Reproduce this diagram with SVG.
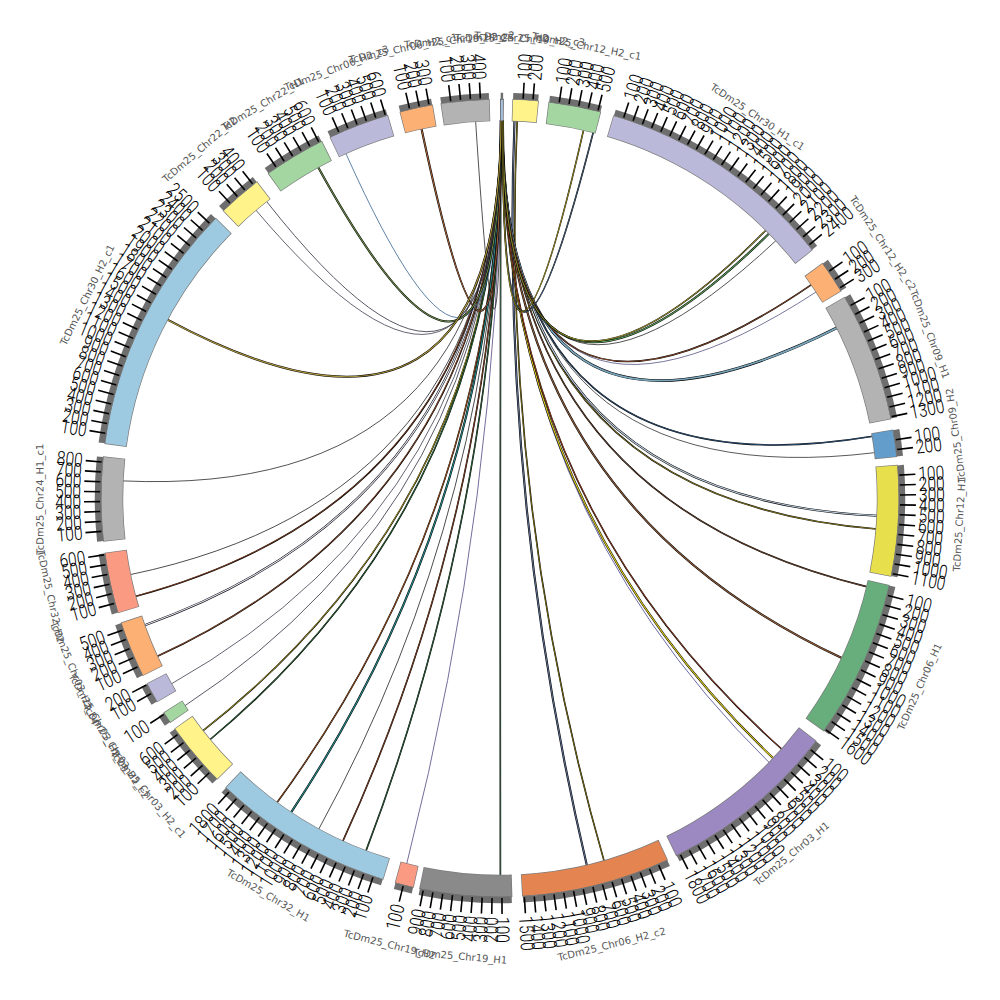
<svg xmlns="http://www.w3.org/2000/svg" width="1000" height="1000" viewBox="0 0 1000 1000">
<style>
.o{stroke:#7a7a7a;stroke-width:22.4}
.f{stroke-width:21}
.b{stroke:#6e6e6e;stroke-width:6.5}
.t path{stroke:#000;stroke-width:1.6;fill:none}
.t text{font-family:Roboto,"Liberation Sans",sans-serif;font-weight:300;font-size:19.5px;dominant-baseline:central;transform:scale(.8,1);fill:#000}
.L text{text-anchor:end}
.n{font-family:"DejaVu Sans",sans-serif;font-size:10px;fill:#555;text-anchor:middle;dominant-baseline:central}
#links use{fill:none}
.k{stroke:#000}
.r1o{stroke:#000;stroke-width:1.6}
.r1{stroke-width:.7}
.r2o{stroke:#000;stroke-width:2.1}
.r2{stroke-width:1.1}
.s{stroke-width:.75}
</style>
<defs>
<circle id="C" cx="500" cy="498" r="388" pathLength="360" fill="none" transform="rotate(-90 500 498)"/>
<circle id="B" cx="500" cy="498" r="402" pathLength="360" fill="none" transform="rotate(-90 500 498)"/>
<path id="k1" d="M501 120Q500 498 122.4 480.9"/>
<path id="k2" d="M501.1 120Q500 498 129.9 574.7"/>
<path id="k3" d="M501.2 120Q500 498 135.1 596.5"/>
<path id="k4" d="M501.3 120Q500 498 144.1 625.4"/>
<path id="k5" d="M501.4 120Q500 498 156.9 656.6"/>
<path id="k6" d="M501.5 120Q500 498 171 684.1"/>
<path id="k7" d="M501.5 120Q500 498 184.4 706.1"/>
<path id="k8" d="M501.6 120Q500 498 202.5 731.2"/>
<path id="k9" d="M501.6 120Q500 498 209.6 740"/>
<path id="k10" d="M501.7 120Q500 498 276.7 803"/>
<path id="k11" d="M501.7 120Q500 498 290.8 812.8"/>
<path id="k12" d="M501.8 120Q500 498 318.5 829.6"/>
<path id="k13" d="M501.8 120Q500 498 342.6 841.7"/>
<path id="k14" d="M501.9 120Q500 498 365.8 851.4"/>
<path id="k15" d="M501.9 120Q500 498 406.6 864.3"/>
<path id="k16" d="M500.7 120Q500 498 500.4 876"/>
<path id="k17" d="M514.5 120.3Q500 498 587 865.9"/>
<path id="k18" d="M517.2 120.5Q500 498 604.2 861.4"/>
<path id="k19" d="M502.2 120Q500 498 769.6 763"/>
<path id="k20" d="M502.2 120Q500 498 773.7 758.7"/>
<path id="k21" d="M502.3 120Q500 498 782.2 749.5"/>
<path id="k22" d="M502.3 120Q500 498 842.3 658.3"/>
<path id="k23" d="M502.4 120Q500 498 867.4 586.9"/>
<path id="k24" d="M502.4 120Q500 498 876.7 529"/>
<path id="k25" d="M502.5 120Q500 498 877.6 515.8"/>
<path id="k26" d="M502.5 120Q500 498 875.3 452.6"/>
<path id="k27" d="M502.6 120Q500 498 872.9 436.3"/>
<path id="k28" d="M502.6 120Q500 498 837.4 327.6"/>
<path id="k29" d="M502.7 120Q500 498 816.7 291.6"/>
<path id="k30" d="M502.7 120Q500 498 811.9 284.4"/>
<path id="k31" d="M502.8 120Q500 498 776.4 240.2"/>
<path id="k32" d="M502.8 120Q500 498 769.6 233.1"/>
<path id="k33" d="M502.9 120Q500 498 766.4 229.8"/>
<path id="k34" d="M502.9 120Q500 498 593.4 131.7"/>
<path id="k35" d="M503 120Q500 498 583.7 129.4"/>
<path id="k36" d="M500.8 120Q500 498 475.6 120.8"/>
<path id="k37" d="M500.9 120Q500 498 421.4 128.3"/>
<path id="k38" d="M500.9 120Q500 498 345.6 152.9"/>
<path id="k39" d="M501 120Q500 498 317.9 166.8"/>
<path id="k40" d="M501 120Q500 498 266.2 201"/>
<path id="k41" d="M501 120Q500 498 255.5 209.7"/>
<path id="k42" d="M501 120Q500 498 166.9 319.4"/>
</defs>
<rect width="1000" height="1000" fill="#fff"/>
<g id="links">
<use href="#k1" class="s" stroke="#1a1a1a"/>
<use href="#k2" class="s" stroke="#111"/>
<use href="#k3" class="r1o"/><use href="#k3" class="r1" stroke="#a0522d"/>
<use href="#k4" class="r2o"/><use href="#k4" class="r2" stroke="#e4e4f4"/>
<use href="#k5" class="r1o"/><use href="#k5" class="r1" stroke="#b5653c"/>
<use href="#k6" class="s" stroke="#334"/>
<use href="#k7" class="s" stroke="#223"/>
<use href="#k8" class="r1o"/><use href="#k8" class="r1" stroke="#d8c830"/>
<use href="#k9" class="r1o"/><use href="#k9" class="r1" stroke="#3a8a4a"/>
<use href="#k10" class="r1o"/><use href="#k10" class="r1" stroke="#c86a2a"/>
<use href="#k11" class="r2o"/><use href="#k11" class="r2" stroke="#2a8a8a"/>
<use href="#k12" class="s" stroke="#111"/>
<use href="#k13" class="r1o"/><use href="#k13" class="r1" stroke="#a0522d"/>
<use href="#k14" class="r1o"/><use href="#k14" class="r1" stroke="#3a7a4a"/>
<use href="#k15" class="s" stroke="#4a3a7a"/>
<use href="#k16" class="r1o"/><use href="#k16" class="r1" stroke="#4a7a5a"/>
<use href="#k17" class="r2o"/><use href="#k17" class="r2" stroke="#5a6a8a"/>
<use href="#k18" class="r1o"/><use href="#k18" class="r1" stroke="#a09020"/>
<use href="#k19" class="s" stroke="#3a3a8a"/>
<use href="#k20" class="r2o"/><use href="#k20" class="r2" stroke="#e0d020"/>
<use href="#k21" class="r1o"/><use href="#k21" class="r1" stroke="#c05030"/>
<use href="#k22" class="r2o"/><use href="#k22" class="r2" stroke="#8a5a3a"/>
<use href="#k23" class="r1o"/><use href="#k23" class="r1" stroke="#8b5a3b"/>
<use href="#k24" class="r1o"/><use href="#k24" class="r1" stroke="#b0a030"/>
<use href="#k25" class="r2o"/><use href="#k25" class="r2" stroke="#c0d0e0"/>
<use href="#k26" class="s" stroke="#222"/>
<use href="#k27" class="r1o"/><use href="#k27" class="r1" stroke="#3a6a9a"/>
<use href="#k28" class="k" stroke-width="2.8"/><use href="#k28" stroke="#7aa6bc" stroke-width="1.8"/>
<use href="#k29" class="s" stroke="#4a4a7a"/>
<use href="#k30" class="r1o"/><use href="#k30" class="r1" stroke="#b0603a"/>
<use href="#k31" class="s" stroke="#1a1a1a"/>
<use href="#k32" class="r2o"/><use href="#k32" class="r2" stroke="#5a9a5a"/>
<use href="#k33" class="r1o"/><use href="#k33" class="r1" stroke="#d8d040"/>
<use href="#k34" class="r1o"/><use href="#k34" class="r1" stroke="#5a7a9a"/>
<use href="#k35" class="r1o"/><use href="#k35" class="r1" stroke="#c8b830"/>
<use href="#k36" class="s" stroke="#1a1a1a"/>
<use href="#k37" class="r2o"/><use href="#k37" class="r2" stroke="#a0603a"/>
<use href="#k38" class="s" stroke="#2a5a8a"/>
<use href="#k39" class="r2o"/><use href="#k39" class="r2" stroke="#6a8a4a"/>
<use href="#k40" class="s" stroke="#223"/>
<use href="#k41" class="s" stroke="#334"/>
<use href="#k42" class="r2o"/><use href="#k42" class="r2" stroke="#b09a40"/>
</g>

<g id="s01-chr25">
<use href="#C" stroke="#555" stroke-width="22.4" stroke-dasharray=".55 400" stroke-dashoffset="0"/>
<use href="#C" class="f" stroke="#a6bdd7" stroke-dasharray=".35 400" stroke-dashoffset="-.1"/>
<use href="#B" class="b" stroke-dasharray=".35 400" stroke-dashoffset="-.1"/>
<text class="n" transform="rotate(0.27 500 498)" x="500" y="38">TcDm25_Chr25_H2</text>
</g>

<g id="s02-chr19-h2-c3">
<use href="#C" class="o" stroke-dasharray="3.8 400" stroke-dashoffset="-1.8"/>
<use href="#C" class="f" stroke="#fff38a" stroke-dasharray="3.6 400" stroke-dashoffset="-1.9"/>
<use href="#B" class="b" stroke-dasharray="3.6 400" stroke-dashoffset="-1.9"/>
<g class="t">
<g transform="rotate(-86.68 500 498)translate(919 498)"><path d="M-19 0h16"/><text>100</text></g>
<g transform="rotate(-85.26 500 498)translate(919 498)"><path d="M-19 0h16"/><text>200</text></g>
</g>
<text class="n" transform="rotate(3.7 500 498)" x="500" y="38">TcDm25_Chr19_H2_c3</text>
</g>

<g id="s03-chr12-h2-c1">
<use href="#C" class="o" stroke-dasharray="7.7 400" stroke-dashoffset="-7"/>
<use href="#C" class="f" stroke="#a3d6a0" stroke-dasharray="7.5 400" stroke-dashoffset="-7.1"/>
<use href="#B" class="b" stroke-dasharray="7.5 400" stroke-dashoffset="-7.1"/>
<g class="t">
<g transform="rotate(-81.48 500 498)translate(919 498)"><path d="M-19 0h16"/><text>100</text></g>
<g transform="rotate(-80.06 500 498)translate(919 498)"><path d="M-19 0h16"/><text>200</text></g>
<g transform="rotate(-78.64 500 498)translate(919 498)"><path d="M-19 0h16"/><text>300</text></g>
<g transform="rotate(-77.22 500 498)translate(919 498)"><path d="M-19 0h16"/><text>400</text></g>
<g transform="rotate(-75.8 500 498)translate(919 498)"><path d="M-19 0h16"/><text>500</text></g>
</g>
<text class="n" transform="rotate(10.85 500 498)" x="500" y="38">TcDm25_Chr12_H2_c1</text>
</g>

<g id="s04-chr30-h1-c1">
<use href="#C" class="o" stroke-dasharray="35.1 400" stroke-dashoffset="-16.5"/>
<use href="#C" class="f" stroke="#bbb9da" stroke-dasharray="34.9 400" stroke-dashoffset="-16.6"/>
<use href="#B" class="b" stroke-dasharray="34.9 400" stroke-dashoffset="-16.6"/>
<g class="t">
<g transform="rotate(-71.98 500 498)translate(919 498)"><path d="M-19 0h16"/><text>100</text></g>
<g transform="rotate(-70.56 500 498)translate(919 498)"><path d="M-19 0h16"/><text>200</text></g>
<g transform="rotate(-69.14 500 498)translate(919 498)"><path d="M-19 0h16"/><text>300</text></g>
<g transform="rotate(-67.72 500 498)translate(919 498)"><path d="M-19 0h16"/><text>400</text></g>
<g transform="rotate(-66.3 500 498)translate(919 498)"><path d="M-19 0h16"/><text>500</text></g>
<g transform="rotate(-64.88 500 498)translate(919 498)"><path d="M-19 0h16"/><text>600</text></g>
<g transform="rotate(-63.46 500 498)translate(919 498)"><path d="M-19 0h16"/><text>700</text></g>
<g transform="rotate(-62.04 500 498)translate(919 498)"><path d="M-19 0h16"/><text>800</text></g>
<g transform="rotate(-60.62 500 498)translate(919 498)"><path d="M-19 0h16"/><text>900</text></g>
<g transform="rotate(-59.2 500 498)translate(919 498)"><path d="M-19 0h16"/><text>1000</text></g>
<g transform="rotate(-57.78 500 498)translate(919 498)"><path d="M-19 0h16"/><text>1100</text></g>
<g transform="rotate(-56.36 500 498)translate(919 498)"><path d="M-19 0h16"/><text>1200</text></g>
<g transform="rotate(-54.94 500 498)translate(919 498)"><path d="M-19 0h16"/><text>1300</text></g>
<g transform="rotate(-53.52 500 498)translate(919 498)"><path d="M-19 0h16"/><text>1400</text></g>
<g transform="rotate(-52.1 500 498)translate(919 498)"><path d="M-19 0h16"/><text>1500</text></g>
<g transform="rotate(-50.68 500 498)translate(919 498)"><path d="M-19 0h16"/><text>1600</text></g>
<g transform="rotate(-49.26 500 498)translate(919 498)"><path d="M-19 0h16"/><text>1700</text></g>
<g transform="rotate(-47.84 500 498)translate(919 498)"><path d="M-19 0h16"/><text>1800</text></g>
<g transform="rotate(-46.42 500 498)translate(919 498)"><path d="M-19 0h16"/><text>1900</text></g>
<g transform="rotate(-45 500 498)translate(919 498)"><path d="M-19 0h16"/><text>2000</text></g>
<g transform="rotate(-43.58 500 498)translate(919 498)"><path d="M-19 0h16"/><text>2100</text></g>
<g transform="rotate(-42.16 500 498)translate(919 498)"><path d="M-19 0h16"/><text>2200</text></g>
<g transform="rotate(-40.74 500 498)translate(919 498)"><path d="M-19 0h16"/><text>2300</text></g>
<g transform="rotate(-39.32 500 498)translate(919 498)"><path d="M-19 0h16"/><text>2400</text></g>
</g>
<text class="n" transform="rotate(34.05 500 498)" x="500" y="38">TcDm25_Chr30_H1_c1</text>
</g>

<g id="s05-chr12-h2-c2">
<use href="#C" class="o" stroke-dasharray="4.9 400" stroke-dashoffset="-53.9"/>
<use href="#C" class="f" stroke="#fdb073" stroke-dasharray="4.7 400" stroke-dashoffset="-54"/>
<use href="#B" class="b" stroke-dasharray="4.7 400" stroke-dashoffset="-54"/>
<g class="t">
<g transform="rotate(-34.58 500 498)translate(919 498)"><path d="M-19 0h16"/><text>100</text></g>
<g transform="rotate(-33.16 500 498)translate(919 498)"><path d="M-19 0h16"/><text>200</text></g>
<g transform="rotate(-31.74 500 498)translate(919 498)"><path d="M-19 0h16"/><text>300</text></g>
</g>
<text class="n" transform="rotate(56.35 500 498)" x="500" y="38">TcDm25_Chr12_H2_c2</text>
</g>

<g id="s06-chr09-h1">
<use href="#C" class="o" stroke-dasharray="18.9 400" stroke-dashoffset="-59.7"/>
<use href="#C" class="f" stroke="#b3b3b3" stroke-dasharray="18.7 400" stroke-dashoffset="-59.8"/>
<use href="#B" class="b" stroke-dasharray="18.7 400" stroke-dashoffset="-59.8"/>
<g class="t">
<g transform="rotate(-28.78 500 498)translate(919 498)"><path d="M-19 0h16"/><text>100</text></g>
<g transform="rotate(-27.36 500 498)translate(919 498)"><path d="M-19 0h16"/><text>200</text></g>
<g transform="rotate(-25.94 500 498)translate(919 498)"><path d="M-19 0h16"/><text>300</text></g>
<g transform="rotate(-24.52 500 498)translate(919 498)"><path d="M-19 0h16"/><text>400</text></g>
<g transform="rotate(-23.1 500 498)translate(919 498)"><path d="M-19 0h16"/><text>500</text></g>
<g transform="rotate(-21.68 500 498)translate(919 498)"><path d="M-19 0h16"/><text>600</text></g>
<g transform="rotate(-20.26 500 498)translate(919 498)"><path d="M-19 0h16"/><text>700</text></g>
<g transform="rotate(-18.84 500 498)translate(919 498)"><path d="M-19 0h16"/><text>800</text></g>
<g transform="rotate(-17.42 500 498)translate(919 498)"><path d="M-19 0h16"/><text>900</text></g>
<g transform="rotate(-16 500 498)translate(919 498)"><path d="M-19 0h16"/><text>1000</text></g>
<g transform="rotate(-14.58 500 498)translate(919 498)"><path d="M-19 0h16"/><text>1100</text></g>
<g transform="rotate(-13.16 500 498)translate(919 498)"><path d="M-19 0h16"/><text>1200</text></g>
<g transform="rotate(-11.74 500 498)translate(919 498)"><path d="M-19 0h16"/><text>1300</text></g>
</g>
<text class="n" transform="rotate(69.15 500 498)" x="500" y="38">TcDm25_Chr09_H1</text>
</g>

<g id="s07-chr09-h2">
<use href="#C" class="o" stroke-dasharray="4 400" stroke-dashoffset="-80.1"/>
<use href="#C" class="f" stroke="#629dcc" stroke-dasharray="3.8 400" stroke-dashoffset="-80.2"/>
<use href="#B" class="b" stroke-dasharray="3.8 400" stroke-dashoffset="-80.2"/>
<g class="t">
<g transform="rotate(-8.38 500 498)translate(919 498)"><path d="M-19 0h16"/><text>100</text></g>
<g transform="rotate(-6.96 500 498)translate(919 498)"><path d="M-19 0h16"/><text>200</text></g>
</g>
<text class="n" transform="rotate(-97.9 500 498)" x="500" y="958">TcDm25_Chr09_H2</text>
</g>

<g id="s08-chr12-h1">
<use href="#C" class="o" stroke-dasharray="16.2 400" stroke-dashoffset="-85.2"/>
<use href="#C" class="f" stroke="#e8df4c" stroke-dasharray="16 400" stroke-dashoffset="-85.3"/>
<use href="#B" class="b" stroke-dasharray="16 400" stroke-dashoffset="-85.3"/>
<g class="t">
<g transform="rotate(-3.28 500 498)translate(919 498)"><path d="M-19 0h16"/><text>100</text></g>
<g transform="rotate(-1.86 500 498)translate(919 498)"><path d="M-19 0h16"/><text>200</text></g>
<g transform="rotate(-0.44 500 498)translate(919 498)"><path d="M-19 0h16"/><text>300</text></g>
<g transform="rotate(0.98 500 498)translate(919 498)"><path d="M-19 0h16"/><text>400</text></g>
<g transform="rotate(2.4 500 498)translate(919 498)"><path d="M-19 0h16"/><text>500</text></g>
<g transform="rotate(3.82 500 498)translate(919 498)"><path d="M-19 0h16"/><text>600</text></g>
<g transform="rotate(5.24 500 498)translate(919 498)"><path d="M-19 0h16"/><text>700</text></g>
<g transform="rotate(6.66 500 498)translate(919 498)"><path d="M-19 0h16"/><text>800</text></g>
<g transform="rotate(8.08 500 498)translate(919 498)"><path d="M-19 0h16"/><text>900</text></g>
<g transform="rotate(9.5 500 498)translate(919 498)"><path d="M-19 0h16"/><text>1000</text></g>
<g transform="rotate(10.92 500 498)translate(919 498)"><path d="M-19 0h16"/><text>1100</text></g>
</g>
<text class="n" transform="rotate(-86.7 500 498)" x="500" y="958">TcDm25_Chr12_H1</text>
</g>

<g id="s09-chr06-h1">
<use href="#C" class="o" stroke-dasharray="23.2 400" stroke-dashoffset="-102.6"/>
<use href="#C" class="f" stroke="#67ae7c" stroke-dasharray="23 400" stroke-dashoffset="-102.7"/>
<use href="#B" class="b" stroke-dasharray="23 400" stroke-dashoffset="-102.7"/>
<g class="t">
<g transform="rotate(14.12 500 498)translate(919 498)"><path d="M-19 0h16"/><text>100</text></g>
<g transform="rotate(15.54 500 498)translate(919 498)"><path d="M-19 0h16"/><text>200</text></g>
<g transform="rotate(16.96 500 498)translate(919 498)"><path d="M-19 0h16"/><text>300</text></g>
<g transform="rotate(18.38 500 498)translate(919 498)"><path d="M-19 0h16"/><text>400</text></g>
<g transform="rotate(19.8 500 498)translate(919 498)"><path d="M-19 0h16"/><text>500</text></g>
<g transform="rotate(21.22 500 498)translate(919 498)"><path d="M-19 0h16"/><text>600</text></g>
<g transform="rotate(22.64 500 498)translate(919 498)"><path d="M-19 0h16"/><text>700</text></g>
<g transform="rotate(24.06 500 498)translate(919 498)"><path d="M-19 0h16"/><text>800</text></g>
<g transform="rotate(25.48 500 498)translate(919 498)"><path d="M-19 0h16"/><text>900</text></g>
<g transform="rotate(26.9 500 498)translate(919 498)"><path d="M-19 0h16"/><text>1000</text></g>
<g transform="rotate(28.32 500 498)translate(919 498)"><path d="M-19 0h16"/><text>1100</text></g>
<g transform="rotate(29.74 500 498)translate(919 498)"><path d="M-19 0h16"/><text>1200</text></g>
<g transform="rotate(31.16 500 498)translate(919 498)"><path d="M-19 0h16"/><text>1300</text></g>
<g transform="rotate(32.58 500 498)translate(919 498)"><path d="M-19 0h16"/><text>1400</text></g>
<g transform="rotate(34 500 498)translate(919 498)"><path d="M-19 0h16"/><text>1500</text></g>
<g transform="rotate(35.42 500 498)translate(919 498)"><path d="M-19 0h16"/><text>1600</text></g>
</g>
<text class="n" transform="rotate(-65.8 500 498)" x="500" y="958">TcDm25_Chr06_H1</text>
</g>

<g id="s10-chr03-h1">
<use href="#C" class="o" stroke-dasharray="26.3 400" stroke-dashoffset="-127.5"/>
<use href="#C" class="f" stroke="#9c89c2" stroke-dasharray="26.1 400" stroke-dashoffset="-127.6"/>
<use href="#B" class="b" stroke-dasharray="26.1 400" stroke-dashoffset="-127.6"/>
<g class="t">
<g transform="rotate(39.02 500 498)translate(919 498)"><path d="M-19 0h16"/><text>100</text></g>
<g transform="rotate(40.44 500 498)translate(919 498)"><path d="M-19 0h16"/><text>200</text></g>
<g transform="rotate(41.86 500 498)translate(919 498)"><path d="M-19 0h16"/><text>300</text></g>
<g transform="rotate(43.28 500 498)translate(919 498)"><path d="M-19 0h16"/><text>400</text></g>
<g transform="rotate(44.7 500 498)translate(919 498)"><path d="M-19 0h16"/><text>500</text></g>
<g transform="rotate(46.12 500 498)translate(919 498)"><path d="M-19 0h16"/><text>600</text></g>
<g transform="rotate(47.54 500 498)translate(919 498)"><path d="M-19 0h16"/><text>700</text></g>
<g transform="rotate(48.96 500 498)translate(919 498)"><path d="M-19 0h16"/><text>800</text></g>
<g transform="rotate(50.38 500 498)translate(919 498)"><path d="M-19 0h16"/><text>900</text></g>
<g transform="rotate(51.8 500 498)translate(919 498)"><path d="M-19 0h16"/><text>1000</text></g>
<g transform="rotate(53.22 500 498)translate(919 498)"><path d="M-19 0h16"/><text>1100</text></g>
<g transform="rotate(54.64 500 498)translate(919 498)"><path d="M-19 0h16"/><text>1200</text></g>
<g transform="rotate(56.06 500 498)translate(919 498)"><path d="M-19 0h16"/><text>1300</text></g>
<g transform="rotate(57.48 500 498)translate(919 498)"><path d="M-19 0h16"/><text>1400</text></g>
<g transform="rotate(58.9 500 498)translate(919 498)"><path d="M-19 0h16"/><text>1500</text></g>
<g transform="rotate(60.32 500 498)translate(919 498)"><path d="M-19 0h16"/><text>1600</text></g>
<g transform="rotate(61.74 500 498)translate(919 498)"><path d="M-19 0h16"/><text>1700</text></g>
<g transform="rotate(63.16 500 498)translate(919 498)"><path d="M-19 0h16"/><text>1800</text></g>
</g>
<text class="n" transform="rotate(-39.35 500 498)" x="500" y="958">TcDm25_Chr03_H1</text>
</g>

<g id="s11-chr06-h2-c2">
<use href="#C" class="o" stroke-dasharray="21.7 400" stroke-dashoffset="-155.1"/>
<use href="#C" class="f" stroke="#e48551" stroke-dasharray="21.5 400" stroke-dashoffset="-155.2"/>
<use href="#B" class="b" stroke-dasharray="21.5 400" stroke-dashoffset="-155.2"/>
<g class="t">
<g transform="rotate(66.62 500 498)translate(919 498)"><path d="M-19 0h16"/><text>100</text></g>
<g transform="rotate(68.04 500 498)translate(919 498)"><path d="M-19 0h16"/><text>200</text></g>
<g transform="rotate(69.46 500 498)translate(919 498)"><path d="M-19 0h16"/><text>300</text></g>
<g transform="rotate(70.88 500 498)translate(919 498)"><path d="M-19 0h16"/><text>400</text></g>
<g transform="rotate(72.3 500 498)translate(919 498)"><path d="M-19 0h16"/><text>500</text></g>
<g transform="rotate(73.72 500 498)translate(919 498)"><path d="M-19 0h16"/><text>600</text></g>
<g transform="rotate(75.14 500 498)translate(919 498)"><path d="M-19 0h16"/><text>700</text></g>
<g transform="rotate(76.56 500 498)translate(919 498)"><path d="M-19 0h16"/><text>800</text></g>
<g transform="rotate(77.98 500 498)translate(919 498)"><path d="M-19 0h16"/><text>900</text></g>
<g transform="rotate(79.4 500 498)translate(919 498)"><path d="M-19 0h16"/><text>1000</text></g>
<g transform="rotate(80.82 500 498)translate(919 498)"><path d="M-19 0h16"/><text>1100</text></g>
<g transform="rotate(82.24 500 498)translate(919 498)"><path d="M-19 0h16"/><text>1200</text></g>
<g transform="rotate(83.66 500 498)translate(919 498)"><path d="M-19 0h16"/><text>1300</text></g>
<g transform="rotate(85.08 500 498)translate(919 498)"><path d="M-19 0h16"/><text>1400</text></g>
<g transform="rotate(86.5 500 498)translate(919 498)"><path d="M-19 0h16"/><text>1500</text></g>
</g>
<text class="n" transform="rotate(-14.05 500 498)" x="500" y="958">TcDm25_Chr06_H2_c2</text>
</g>

<g id="s12-chr19-h1">
<use href="#C" class="o" stroke-dasharray="13.5 400" stroke-dashoffset="-178.2"/>
<use href="#C" class="f" stroke="#8a8a8a" stroke-dasharray="13.3 400" stroke-dashoffset="-178.3"/>
<use href="#B" class="b" stroke-dasharray="13.3 400" stroke-dashoffset="-178.3"/>
<g class="t">
<g transform="rotate(89.72 500 498)translate(919 498)"><path d="M-19 0h16"/><text>100</text></g>
<g class="L" transform="rotate(-88.86 500 498)translate(81 498)"><path d="M19 0h-16"/><text>200</text></g>
<g class="L" transform="rotate(-87.44 500 498)translate(81 498)"><path d="M19 0h-16"/><text>300</text></g>
<g class="L" transform="rotate(-86.02 500 498)translate(81 498)"><path d="M19 0h-16"/><text>400</text></g>
<g class="L" transform="rotate(-84.6 500 498)translate(81 498)"><path d="M19 0h-16"/><text>500</text></g>
<g class="L" transform="rotate(-83.18 500 498)translate(81 498)"><path d="M19 0h-16"/><text>600</text></g>
<g class="L" transform="rotate(-81.76 500 498)translate(81 498)"><path d="M19 0h-16"/><text>700</text></g>
<g class="L" transform="rotate(-80.34 500 498)translate(81 498)"><path d="M19 0h-16"/><text>800</text></g>
<g class="L" transform="rotate(-78.92 500 498)translate(81 498)"><path d="M19 0h-16"/><text>900</text></g>
</g>
<text class="n" transform="rotate(4.95 500 498)" x="500" y="958">TcDm25_Chr19_H1</text>
</g>

<g id="s13-chr19-h2">
<use href="#C" class="o" stroke-dasharray="2.8 400" stroke-dashoffset="-192.5"/>
<use href="#C" class="f" stroke="#fb9a82" stroke-dasharray="2.6 400" stroke-dashoffset="-192.6"/>
<use href="#B" class="b" stroke-dasharray="2.6 400" stroke-dashoffset="-192.6"/>
<g class="t">
<g class="L" transform="rotate(-75.98 500 498)translate(81 498)"><path d="M19 0h-16"/><text>100</text></g>
</g>
<text class="n" transform="rotate(13.9 500 498)" x="500" y="958">TcDm25_Chr19_H2</text>
</g>

<g id="s14-chr32-h1">
<use href="#C" class="o" stroke-dasharray="26.5 400" stroke-dashoffset="-197"/>
<use href="#C" class="f" stroke="#9ecae1" stroke-dasharray="26.3 400" stroke-dashoffset="-197.1"/>
<use href="#B" class="b" stroke-dasharray="26.3 400" stroke-dashoffset="-197.1"/>
<g class="t">
<g class="L" transform="rotate(-71.48 500 498)translate(81 498)"><path d="M19 0h-16"/><text>100</text></g>
<g class="L" transform="rotate(-70.06 500 498)translate(81 498)"><path d="M19 0h-16"/><text>200</text></g>
<g class="L" transform="rotate(-68.64 500 498)translate(81 498)"><path d="M19 0h-16"/><text>300</text></g>
<g class="L" transform="rotate(-67.22 500 498)translate(81 498)"><path d="M19 0h-16"/><text>400</text></g>
<g class="L" transform="rotate(-65.8 500 498)translate(81 498)"><path d="M19 0h-16"/><text>500</text></g>
<g class="L" transform="rotate(-64.38 500 498)translate(81 498)"><path d="M19 0h-16"/><text>600</text></g>
<g class="L" transform="rotate(-62.96 500 498)translate(81 498)"><path d="M19 0h-16"/><text>700</text></g>
<g class="L" transform="rotate(-61.54 500 498)translate(81 498)"><path d="M19 0h-16"/><text>800</text></g>
<g class="L" transform="rotate(-60.12 500 498)translate(81 498)"><path d="M19 0h-16"/><text>900</text></g>
<g class="L" transform="rotate(-58.7 500 498)translate(81 498)"><path d="M19 0h-16"/><text>1000</text></g>
<g class="L" transform="rotate(-57.28 500 498)translate(81 498)"><path d="M19 0h-16"/><text>1100</text></g>
<g class="L" transform="rotate(-55.86 500 498)translate(81 498)"><path d="M19 0h-16"/><text>1200</text></g>
<g class="L" transform="rotate(-54.44 500 498)translate(81 498)"><path d="M19 0h-16"/><text>1300</text></g>
<g class="L" transform="rotate(-53.02 500 498)translate(81 498)"><path d="M19 0h-16"/><text>1400</text></g>
<g class="L" transform="rotate(-51.6 500 498)translate(81 498)"><path d="M19 0h-16"/><text>1500</text></g>
<g class="L" transform="rotate(-50.18 500 498)translate(81 498)"><path d="M19 0h-16"/><text>1600</text></g>
<g class="L" transform="rotate(-48.76 500 498)translate(81 498)"><path d="M19 0h-16"/><text>1700</text></g>
<g class="L" transform="rotate(-47.34 500 498)translate(81 498)"><path d="M19 0h-16"/><text>1800</text></g>
</g>
<text class="n" transform="rotate(30.25 500 498)" x="500" y="958">TcDm25_Chr32_H1</text>
</g>

<g id="s15-chr03-h2-c1">
<use href="#C" class="o" stroke-dasharray="9.6 400" stroke-dashoffset="-225.1"/>
<use href="#C" class="f" stroke="#fff38a" stroke-dasharray="9.4 400" stroke-dashoffset="-225.2"/>
<use href="#B" class="b" stroke-dasharray="9.4 400" stroke-dashoffset="-225.2"/>
<g class="t">
<g class="L" transform="rotate(-43.38 500 498)translate(81 498)"><path d="M19 0h-16"/><text>100</text></g>
<g class="L" transform="rotate(-41.96 500 498)translate(81 498)"><path d="M19 0h-16"/><text>200</text></g>
<g class="L" transform="rotate(-40.54 500 498)translate(81 498)"><path d="M19 0h-16"/><text>300</text></g>
<g class="L" transform="rotate(-39.12 500 498)translate(81 498)"><path d="M19 0h-16"/><text>400</text></g>
<g class="L" transform="rotate(-37.7 500 498)translate(81 498)"><path d="M19 0h-16"/><text>500</text></g>
<g class="L" transform="rotate(-36.28 500 498)translate(81 498)"><path d="M19 0h-16"/><text>600</text></g>
</g>
<text class="n" transform="rotate(49.9 500 498)" x="500" y="958">TcDm25_Chr03_H2_c1</text>
</g>

<g id="s16-chr03-h2-c2">
<use href="#C" class="o" stroke-dasharray="1.8 400" stroke-dashoffset="-235.7"/>
<use href="#C" class="f" stroke="#a3d6a0" stroke-dasharray="1.6 400" stroke-dashoffset="-235.8"/>
<use href="#B" class="b" stroke-dasharray="1.6 400" stroke-dashoffset="-235.8"/>
<g class="t">
<g class="L" transform="rotate(-32.78 500 498)translate(81 498)"><path d="M19 0h-16"/><text>100</text></g>
</g>
<text class="n" transform="rotate(56.6 500 498)" x="500" y="958">TcDm25_Chr03_H2_c2</text>
</g>

<g id="s17-chr03-h2-c3">
<use href="#C" class="o" stroke-dasharray="3.1 400" stroke-dashoffset="-239.2"/>
<use href="#C" class="f" stroke="#bbb9da" stroke-dasharray="2.9 400" stroke-dashoffset="-239.3"/>
<use href="#B" class="b" stroke-dasharray="2.9 400" stroke-dashoffset="-239.3"/>
<g class="t">
<g class="L" transform="rotate(-29.28 500 498)translate(81 498)"><path d="M19 0h-16"/><text>100</text></g>
<g class="L" transform="rotate(-27.86 500 498)translate(81 498)"><path d="M19 0h-16"/><text>200</text></g>
</g>
<text class="n" transform="rotate(60.75 500 498)" x="500" y="958">TcDm25_Chr03_H2_c3</text>
</g>

<g id="s18-chr03-h2-c4">
<use href="#C" class="o" stroke-dasharray="8.3 400" stroke-dashoffset="-243.5"/>
<use href="#C" class="f" stroke="#fdb073" stroke-dasharray="8.1 400" stroke-dashoffset="-243.6"/>
<use href="#B" class="b" stroke-dasharray="8.1 400" stroke-dashoffset="-243.6"/>
<g class="t">
<g class="L" transform="rotate(-24.98 500 498)translate(81 498)"><path d="M19 0h-16"/><text>100</text></g>
<g class="L" transform="rotate(-23.56 500 498)translate(81 498)"><path d="M19 0h-16"/><text>200</text></g>
<g class="L" transform="rotate(-22.14 500 498)translate(81 498)"><path d="M19 0h-16"/><text>300</text></g>
<g class="L" transform="rotate(-20.72 500 498)translate(81 498)"><path d="M19 0h-16"/><text>400</text></g>
<g class="L" transform="rotate(-19.3 500 498)translate(81 498)"><path d="M19 0h-16"/><text>500</text></g>
</g>
<text class="n" transform="rotate(67.65 500 498)" x="500" y="958">TcDm25_Chr03_H2_c4</text>
</g>

<g id="s19-chr32-h2">
<use href="#C" class="o" stroke-dasharray="8.9 400" stroke-dashoffset="-253.2"/>
<use href="#C" class="f" stroke="#fb9a82" stroke-dasharray="8.7 400" stroke-dashoffset="-253.3"/>
<use href="#B" class="b" stroke-dasharray="8.7 400" stroke-dashoffset="-253.3"/>
<g class="t">
<g class="L" transform="rotate(-15.28 500 498)translate(81 498)"><path d="M19 0h-16"/><text>100</text></g>
<g class="L" transform="rotate(-13.86 500 498)translate(81 498)"><path d="M19 0h-16"/><text>200</text></g>
<g class="L" transform="rotate(-12.44 500 498)translate(81 498)"><path d="M19 0h-16"/><text>300</text></g>
<g class="L" transform="rotate(-11.02 500 498)translate(81 498)"><path d="M19 0h-16"/><text>400</text></g>
<g class="L" transform="rotate(-9.6 500 498)translate(81 498)"><path d="M19 0h-16"/><text>500</text></g>
<g class="L" transform="rotate(-8.18 500 498)translate(81 498)"><path d="M19 0h-16"/><text>600</text></g>
</g>
<text class="n" transform="rotate(77.65 500 498)" x="500" y="958">TcDm25_Chr32_H2</text>
</g>

<g id="s20-chr24-h1-c1">
<use href="#C" class="o" stroke-dasharray="12.3 400" stroke-dashoffset="-263.7"/>
<use href="#C" class="f" stroke="#b3b3b3" stroke-dasharray="12.1 400" stroke-dashoffset="-263.8"/>
<use href="#B" class="b" stroke-dasharray="12.1 400" stroke-dashoffset="-263.8"/>
<g class="t">
<g class="L" transform="rotate(-4.78 500 498)translate(81 498)"><path d="M19 0h-16"/><text>100</text></g>
<g class="L" transform="rotate(-3.36 500 498)translate(81 498)"><path d="M19 0h-16"/><text>200</text></g>
<g class="L" transform="rotate(-1.94 500 498)translate(81 498)"><path d="M19 0h-16"/><text>300</text></g>
<g class="L" transform="rotate(-0.52 500 498)translate(81 498)"><path d="M19 0h-16"/><text>400</text></g>
<g class="L" transform="rotate(0.9 500 498)translate(81 498)"><path d="M19 0h-16"/><text>500</text></g>
<g class="L" transform="rotate(2.32 500 498)translate(81 498)"><path d="M19 0h-16"/><text>600</text></g>
<g class="L" transform="rotate(3.74 500 498)translate(81 498)"><path d="M19 0h-16"/><text>700</text></g>
<g class="L" transform="rotate(5.16 500 498)translate(81 498)"><path d="M19 0h-16"/><text>800</text></g>
</g>
<text class="n" transform="rotate(269.85 500 498)" x="500" y="38">TcDm25_Chr24_H1_c1</text>
</g>

<g id="s21-chr30-h2-c1">
<use href="#C" class="o" stroke-dasharray="36.8 400" stroke-dashoffset="-277.8"/>
<use href="#C" class="f" stroke="#9ecae1" stroke-dasharray="36.6 400" stroke-dashoffset="-277.9"/>
<use href="#B" class="b" stroke-dasharray="36.6 400" stroke-dashoffset="-277.9"/>
<g class="t">
<g class="L" transform="rotate(9.32 500 498)translate(81 498)"><path d="M19 0h-16"/><text>100</text></g>
<g class="L" transform="rotate(10.74 500 498)translate(81 498)"><path d="M19 0h-16"/><text>200</text></g>
<g class="L" transform="rotate(12.16 500 498)translate(81 498)"><path d="M19 0h-16"/><text>300</text></g>
<g class="L" transform="rotate(13.58 500 498)translate(81 498)"><path d="M19 0h-16"/><text>400</text></g>
<g class="L" transform="rotate(15 500 498)translate(81 498)"><path d="M19 0h-16"/><text>500</text></g>
<g class="L" transform="rotate(16.42 500 498)translate(81 498)"><path d="M19 0h-16"/><text>600</text></g>
<g class="L" transform="rotate(17.84 500 498)translate(81 498)"><path d="M19 0h-16"/><text>700</text></g>
<g class="L" transform="rotate(19.26 500 498)translate(81 498)"><path d="M19 0h-16"/><text>800</text></g>
<g class="L" transform="rotate(20.68 500 498)translate(81 498)"><path d="M19 0h-16"/><text>900</text></g>
<g class="L" transform="rotate(22.1 500 498)translate(81 498)"><path d="M19 0h-16"/><text>1000</text></g>
<g class="L" transform="rotate(23.52 500 498)translate(81 498)"><path d="M19 0h-16"/><text>1100</text></g>
<g class="L" transform="rotate(24.94 500 498)translate(81 498)"><path d="M19 0h-16"/><text>1200</text></g>
<g class="L" transform="rotate(26.36 500 498)translate(81 498)"><path d="M19 0h-16"/><text>1300</text></g>
<g class="L" transform="rotate(27.78 500 498)translate(81 498)"><path d="M19 0h-16"/><text>1400</text></g>
<g class="L" transform="rotate(29.2 500 498)translate(81 498)"><path d="M19 0h-16"/><text>1500</text></g>
<g class="L" transform="rotate(30.62 500 498)translate(81 498)"><path d="M19 0h-16"/><text>1600</text></g>
<g class="L" transform="rotate(32.04 500 498)translate(81 498)"><path d="M19 0h-16"/><text>1700</text></g>
<g class="L" transform="rotate(33.46 500 498)translate(81 498)"><path d="M19 0h-16"/><text>1800</text></g>
<g class="L" transform="rotate(34.88 500 498)translate(81 498)"><path d="M19 0h-16"/><text>1900</text></g>
<g class="L" transform="rotate(36.3 500 498)translate(81 498)"><path d="M19 0h-16"/><text>2000</text></g>
<g class="L" transform="rotate(37.72 500 498)translate(81 498)"><path d="M19 0h-16"/><text>2100</text></g>
<g class="L" transform="rotate(39.14 500 498)translate(81 498)"><path d="M19 0h-16"/><text>2200</text></g>
<g class="L" transform="rotate(40.56 500 498)translate(81 498)"><path d="M19 0h-16"/><text>2300</text></g>
<g class="L" transform="rotate(41.98 500 498)translate(81 498)"><path d="M19 0h-16"/><text>2400</text></g>
<g class="L" transform="rotate(43.4 500 498)translate(81 498)"><path d="M19 0h-16"/><text>2500</text></g>
</g>
<text class="n" transform="rotate(296.2 500 498)" x="500" y="38">TcDm25_Chr30_H2_c1</text>
</g>

<g id="s22-chr22-h2">
<use href="#C" class="o" stroke-dasharray="6.5 400" stroke-dashoffset="-316"/>
<use href="#C" class="f" stroke="#fff38a" stroke-dasharray="6.3 400" stroke-dashoffset="-316.1"/>
<use href="#B" class="b" stroke-dasharray="6.3 400" stroke-dashoffset="-316.1"/>
<g class="t">
<g class="L" transform="rotate(47.52 500 498)translate(81 498)"><path d="M19 0h-16"/><text>100</text></g>
<g class="L" transform="rotate(48.94 500 498)translate(81 498)"><path d="M19 0h-16"/><text>200</text></g>
<g class="L" transform="rotate(50.36 500 498)translate(81 498)"><path d="M19 0h-16"/><text>300</text></g>
<g class="L" transform="rotate(51.78 500 498)translate(81 498)"><path d="M19 0h-16"/><text>400</text></g>
</g>
<text class="n" transform="rotate(319.25 500 498)" x="500" y="38">TcDm25_Chr22_H2</text>
</g>

<g id="s23-chr22-h1">
<use href="#C" class="o" stroke-dasharray="9.1 400" stroke-dashoffset="-324.4"/>
<use href="#C" class="f" stroke="#a3d6a0" stroke-dasharray="8.9 400" stroke-dashoffset="-324.5"/>
<use href="#B" class="b" stroke-dasharray="8.9 400" stroke-dashoffset="-324.5"/>
<g class="t">
<g class="L" transform="rotate(55.92 500 498)translate(81 498)"><path d="M19 0h-16"/><text>100</text></g>
<g class="L" transform="rotate(57.34 500 498)translate(81 498)"><path d="M19 0h-16"/><text>200</text></g>
<g class="L" transform="rotate(58.76 500 498)translate(81 498)"><path d="M19 0h-16"/><text>300</text></g>
<g class="L" transform="rotate(60.18 500 498)translate(81 498)"><path d="M19 0h-16"/><text>400</text></g>
<g class="L" transform="rotate(61.6 500 498)translate(81 498)"><path d="M19 0h-16"/><text>500</text></g>
<g class="L" transform="rotate(63.02 500 498)translate(81 498)"><path d="M19 0h-16"/><text>600</text></g>
</g>
<text class="n" transform="rotate(328.95 500 498)" x="500" y="38">TcDm25_Chr22_H1</text>
</g>

<g id="s24-chr06-h2-c3">
<use href="#C" class="o" stroke-dasharray="9 400" stroke-dashoffset="-334.7"/>
<use href="#C" class="f" stroke="#bbb9da" stroke-dasharray="8.8 400" stroke-dashoffset="-334.8"/>
<use href="#B" class="b" stroke-dasharray="8.8 400" stroke-dashoffset="-334.8"/>
<g class="t">
<g class="L" transform="rotate(66.22 500 498)translate(81 498)"><path d="M19 0h-16"/><text>100</text></g>
<g class="L" transform="rotate(67.64 500 498)translate(81 498)"><path d="M19 0h-16"/><text>200</text></g>
<g class="L" transform="rotate(69.06 500 498)translate(81 498)"><path d="M19 0h-16"/><text>300</text></g>
<g class="L" transform="rotate(70.48 500 498)translate(81 498)"><path d="M19 0h-16"/><text>400</text></g>
<g class="L" transform="rotate(71.9 500 498)translate(81 498)"><path d="M19 0h-16"/><text>500</text></g>
<g class="L" transform="rotate(73.32 500 498)translate(81 498)"><path d="M19 0h-16"/><text>600</text></g>
</g>
<text class="n" transform="rotate(339.2 500 498)" x="500" y="38">TcDm25_Chr06_H2_c3</text>
</g>

<g id="s25-chr06-h2-c1">
<use href="#C" class="o" stroke-dasharray="4.9 400" stroke-dashoffset="-345.4"/>
<use href="#C" class="f" stroke="#fdb073" stroke-dasharray="4.7 400" stroke-dashoffset="-345.5"/>
<use href="#B" class="b" stroke-dasharray="4.7 400" stroke-dashoffset="-345.5"/>
<g class="t">
<g class="L" transform="rotate(76.92 500 498)translate(81 498)"><path d="M19 0h-16"/><text>100</text></g>
<g class="L" transform="rotate(78.34 500 498)translate(81 498)"><path d="M19 0h-16"/><text>200</text></g>
<g class="L" transform="rotate(79.76 500 498)translate(81 498)"><path d="M19 0h-16"/><text>300</text></g>
</g>
<text class="n" transform="rotate(347.85 500 498)" x="500" y="38">TcDm25_Chr06_H2_c1</text>
</g>

<g id="s26-chr19-h2-c2">
<use href="#C" class="o" stroke-dasharray="7.1 400" stroke-dashoffset="-351.4"/>
<use href="#C" class="f" stroke="#b3b3b3" stroke-dasharray="6.9 400" stroke-dashoffset="-351.5"/>
<use href="#B" class="b" stroke-dasharray="6.9 400" stroke-dashoffset="-351.5"/>
<g class="t">
<g class="L" transform="rotate(82.92 500 498)translate(81 498)"><path d="M19 0h-16"/><text>100</text></g>
<g class="L" transform="rotate(84.34 500 498)translate(81 498)"><path d="M19 0h-16"/><text>200</text></g>
<g class="L" transform="rotate(85.76 500 498)translate(81 498)"><path d="M19 0h-16"/><text>300</text></g>
<g class="L" transform="rotate(87.18 500 498)translate(81 498)"><path d="M19 0h-16"/><text>400</text></g>
</g>
<text class="n" transform="rotate(354.95 500 498)" x="500" y="38">TcDm25_Chr19_H2_c2</text>
</g>
</svg>
